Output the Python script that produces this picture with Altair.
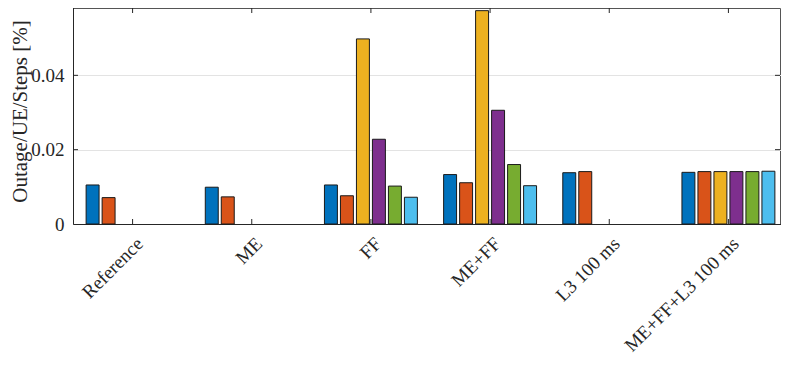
import altair as alt
import pandas as pd

groups = ["Reference", "ME", "FF", "ME+FF", "L3 100 ms", "ME+FF+L3 100 ms"]
series = ["S1", "S2", "S3", "S4", "S5", "S6"]
colors = ["#0072BD", "#D95319", "#EDB120", "#7E2F8E", "#77AC30", "#4DBEEE"]

s1 = [0.0105, 0.0099, 0.0105, 0.0133, 0.0138, 0.0139]
s2 = [0.0071, 0.0073, 0.0076, 0.0111, 0.0141, 0.0141]
s3 = [None, None, 0.0498, 0.0574, None, 0.0141]
s4 = [None, None, 0.0228, 0.0306, None, 0.0141]
s5 = [None, None, 0.0102, 0.0160, None, 0.0141]
s6 = [None, None, 0.0072, 0.0103, None, 0.0142]

y_ticks = [0, 0.02, 0.04]

rows = []
for name, vals in zip(series, [s1, s2, s3, s4, s5, s6]):
    for g, v in zip(groups, vals):
        if v is not None:
            rows.append({"group": g, "series": name, "value": v})
df = pd.DataFrame(rows)

W, H = 707, 216
XR = 715          # full band range (extends slightly past the drawn frame)
YR = 223          # pixel span for 0..0.06
FONT = "Liberation Serif"
AX = "#262626"

xscale = alt.Scale(domain=groups, paddingInner=0, paddingOuter=0, range=[0, XR])
yscale = alt.Scale(domain=[0, 0.06], nice=False, zero=True, range=[H, H - YR])

bars = alt.Chart(df).mark_bar(stroke="#1a1a1a", strokeWidth=1).encode(
    x=alt.X("group:N", scale=xscale, sort=groups,
            axis=alt.Axis(title=None, labelAngle=-45, labelAlign="right",
                          labelBaseline="top", labelFont=FONT, labelFontSize=19,
                          labelColor=AX, ticks=False, domainColor=AX,
                          labelPadding=10, labelOffset=1, labelLimit=300)),
    xOffset=alt.XOffset("series:N",
                        scale=alt.Scale(domain=series, paddingInner=0.19, paddingOuter=0.82)),
    y=alt.Y("value:Q", scale=yscale,
            axis=alt.Axis(values=y_ticks, title="Outage/UE/Steps [%]",
                          labelExpr="datum.value == 0 ? '0' : format(datum.value, '.2f')",
                          labelFont=FONT, labelFontSize=19, labelColor=AX,
                          titleFont=FONT, titleFontSize=21, titleColor=AX,
                          titleFontWeight="normal", ticks=False, labelPadding=9,
                          domainColor=AX, gridColor="#e3e3e3",
                          titleX=-53, titleY=103, titleAngle=270,
                          titleAlign="center", titleBaseline="middle")),
    color=alt.Color("series:N", scale=alt.Scale(domain=series, range=colors), legend=None),
)

ytick_df = pd.DataFrame({"v": y_ticks[1:]})
xtick_df = pd.DataFrame({"group": groups})

yt_left = alt.Chart(ytick_df).mark_rule(color=AX, strokeWidth=1).encode(
    y=alt.Y("v:Q", scale=yscale), x=alt.value(0), x2=alt.value(5))
yt_right = alt.Chart(ytick_df).mark_rule(color=AX, strokeWidth=1).encode(
    y=alt.Y("v:Q", scale=yscale), x=alt.value(W - 5), x2=alt.value(W))
xt_bottom = alt.Chart(xtick_df).mark_rule(color=AX, strokeWidth=1).encode(
    x=alt.X("group:N", scale=xscale, sort=groups, bandPosition=0.5),
    y=alt.value(H), y2=alt.value(H - 5))
xt_top = alt.Chart(xtick_df).mark_rule(color=AX, strokeWidth=1).encode(
    x=alt.X("group:N", scale=xscale, sort=groups, bandPosition=0.5),
    y=alt.value(0), y2=alt.value(5))

chart = alt.layer(bars, yt_left, yt_right, xt_bottom, xt_top).properties(
    width=W, height=H,
    autosize=alt.AutoSizeParams(type="none"),
    padding={"left": 65, "top": 0, "right": 1, "bottom": 138},
).configure_view(stroke="#555555", strokeWidth=1).configure_axis(grid=True).configure_axisX(grid=False)

chart.save("out.html", embed_options={"renderer": "svg", "actions": False})
